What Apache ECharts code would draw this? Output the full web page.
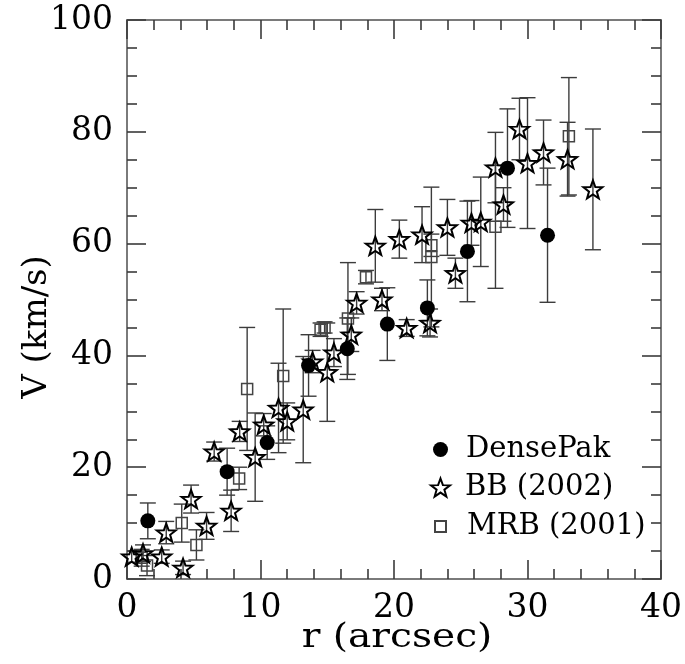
<!DOCTYPE html>
<html><head><meta charset="utf-8">
<script src="https://cdn.jsdelivr.net/npm/echarts@6/dist/echarts.min.js"></script>
<style>html,body{margin:0;padding:0;background:#fff}#c{width:685px;height:664px}</style>
</head><body><div id="c"></div>
<script>
// ---- data ----
const densepakR   = [1.56, 7.5, 10.5, 13.6, 16.5, 19.5, 22.5, 25.5, 28.5, 31.5];
const densepakV   = [10.4, 19.2, 24.4, 38.2, 41.2, 45.6, 48.5, 58.6, 73.5, 61.5];
const densepakErr = [3.2, 4.2, 3.0, 5.5, 5.5, 6.5, 5.0, 9.0, 10.6, 12.0];

const bbR   = [0.35, 1.2, 2.6, 2.94, 4.2, 4.8, 5.96, 6.53, 7.8, 8.44, 9.6, 10.24, 11.35, 12.0, 13.2, 13.9, 15.0, 15.5, 16.8, 17.2, 18.6, 19.1, 20.4, 20.95, 22.1, 22.7, 24.0, 24.6, 25.8, 26.5, 27.6, 28.2, 29.4, 30.0, 31.2, 33.0, 34.9];
const bbV   = [4.0, 4.6, 4.0, 8.3, 2.0, 14.3, 9.5, 22.8, 12.2, 26.4, 21.8, 27.6, 30.6, 28.2, 30.3, 38.9, 37.0, 40.5, 43.7, 49.4, 59.6, 50.0, 60.8, 44.9, 61.6, 45.8, 62.9, 54.7, 63.7, 63.9, 73.6, 67.0, 80.5, 74.4, 76.3, 75.1, 69.7];
const bbErr = [1.0, 1.5, 1.2, 2.0, 1.2, 2.5, 2.4, 1.7, 3.7, 1.8, 7.9, 2.0, 8.0, 3.3, 9.5, 2.0, 8.8, 2.5, 3.0, 2.0, 6.5, 2.0, 3.4, 1.5, 5.0, 2.5, 5.0, 2.7, 4.0, 8.0, 6.3, 3.0, 5.5, 11.7, 5.8, 6.6, 10.8];

const mrbR   = [1.1, 1.5, 4.1, 5.2, 8.4, 9.0, 11.7, 14.5, 14.8, 16.55, 17.9, 22.8, 22.8, 27.6, 33.1];
const mrbV   = [3.8, 2.4, 10.0, 6.1, 18.0, 34.0, 36.3, 44.6, 45.0, 46.6, 54.0, 59.7, 57.6, 63.0, 79.2];
const mrbErr = [1.5, 1.8, 3.4, 2.7, 2.0, 11.0, 12.0, 1.2, 1.0, 10.0, 1.2, 2.0, 12.5, 11.0, 10.5];

const xTickValues = [0, 10, 20, 30, 40];
const yTickValues = [0, 20, 40, 60, 80, 100];
const seriesNames = ['DensePak', 'BB (2002)', 'MRB (2001)'];
const xTitle = 'r (arcsec)';
const yTitle = 'V (km/s)';

// ---- helpers ----
function pts(R, V) { return R.map((r, i) => [r, V[i]]); }
function errs(R, V, E) { return R.map((r, i) => [r, V[i] - E[i], V[i] + E[i]]); }
function starPath() {
  let d = '';
  for (let i = 0; i < 10; i++) {
    const a = -Math.PI / 2 + i * Math.PI / 5;
    const rr = (i % 2) ? 4.1 : 10;
    d += (i ? 'L' : 'M') + (rr * Math.cos(a)).toFixed(3) + ' ' + (rr * Math.sin(a)).toFixed(3) + ' ';
  }
  return 'path://' + d + 'Z';
}
const STAR = starPath();
const FONT = 'DejaVu Serif';

function errRender(params, api) {
  const x = api.value(0), lo = api.value(1), hi = api.value(2);
  const p1 = api.coord([x, lo]), p2 = api.coord([x, hi]);
  const w = 8;
  const st = { stroke: '#3c3c3c', lineWidth: 1.4, fill: null };
  return { type: 'group', children: [
    { type: 'line', shape: { x1: p1[0], y1: p1[1], x2: p2[0], y2: p2[1] }, style: st },
    { type: 'line', shape: { x1: p1[0] - w, y1: p1[1], x2: p1[0] + w, y2: p1[1] }, style: st },
    { type: 'line', shape: { x1: p2[0] - w, y1: p2[1], x2: p2[0] + w, y2: p2[1] }, style: st }
  ]};
}

const frameLine = { show: true, onZero: false, lineStyle: { color: '#7a7a7a', width: 2 } };
const tickCommon = { show: true, inside: true, length: 19, lineStyle: { color: '#3a3a3a', width: 1.6 } };
const minorCommon = { show: true, length: 10, lineStyle: { color: '#3a3a3a', width: 1.6 } };

function xAx(pos, labels) {
  return {
    type: 'value', position: pos, min: 0, max: 40, interval: 10,
    axisLine: frameLine, axisTick: tickCommon,
    minorTick: Object.assign({ splitNumber: 5 }, minorCommon),
    splitLine: { show: false },
    axisLabel: { show: labels, margin: 13, fontFamily: FONT, fontSize: 33, color: '#000',
      customValues: xTickValues }
  };
}
function yAx(pos, labels) {
  return {
    type: 'value', position: pos, min: 0, max: 100, interval: 20,
    axisLine: frameLine, axisTick: tickCommon,
    minorTick: Object.assign({ splitNumber: 4 }, minorCommon),
    splitLine: { show: false },
    axisLabel: { show: labels, margin: 14, fontFamily: FONT, fontSize: 33, color: '#000',
      customValues: yTickValues }
  };
}

const legendText = { fontFamily: FONT, fontSize: 29, color: '#000', padding: [0, 0, 0, 13] };

const chart = echarts.init(document.getElementById('c'), null, { renderer: 'canvas' });
chart.setOption({
  animation: false,
  backgroundColor: '#fff',
  grid: { left: 127, top: 20, width: 539, height: 559 },
  xAxis: [xAx('bottom', true), xAx('top', false)],
  yAxis: [yAx('left', true), yAx('right', false)],
  legend: [
    { data: [{ name: seriesNames[0], icon: 'circle' }], left: 428, top: 430, itemWidth: 15, itemHeight: 15, textStyle: legendText, selectedMode: false },
    { data: [{ name: seriesNames[1], icon: STAR }], left: 425, top: 468, itemWidth: 19, itemHeight: 19, textStyle: Object.assign({}, legendText, { padding: [0, 0, 0, 10] }), selectedMode: false },
    { data: [{ name: seriesNames[2], icon: 'rect' }], left: 429, top: 507, itemWidth: 11, itemHeight: 11, textStyle: Object.assign({}, legendText, { padding: [0, 0, 0, 16] }), selectedMode: false }
  ],
  graphic: [
    { type: 'text', x: 397, y: 638, scaleX: 1.15, style: { text: xTitle, font: '34px "DejaVu Serif"', fill: '#000', align: 'center', verticalAlign: 'middle' } },
    { type: 'text', x: 20, y: 327, rotation: Math.PI / 2, style: { text: yTitle, font: '34px "DejaVu Serif"', fill: '#000', align: 'center', verticalAlign: 'top' } }
  ],
  series: [
    { type: 'custom', name: 'errDP', renderItem: errRender, data: errs(densepakR, densepakV, densepakErr), clip: true, z: 1, silent: true },
    { type: 'custom', name: 'errBB', renderItem: errRender, data: errs(bbR, bbV, bbErr), clip: true, z: 1, silent: true },
    { type: 'custom', name: 'errMRB', renderItem: errRender, data: errs(mrbR, mrbV, mrbErr), clip: true, z: 1, silent: true },
    { type: 'scatter', name: seriesNames[2], data: pts(mrbR, mrbV), symbol: 'rect', symbolSize: 11, z: 2,
      itemStyle: { color: 'rgba(0,0,0,0)', borderColor: '#444', borderWidth: 1.5, opacity: 1 } },
    { type: 'scatter', name: seriesNames[1], data: pts(bbR, bbV), symbol: STAR, symbolSize: 19, symbolKeepAspect: true, z: 3,
      itemStyle: { color: 'rgba(0,0,0,0)', borderColor: '#000', borderWidth: 2, opacity: 1 } },
    { type: 'scatter', name: seriesNames[0], data: pts(densepakR, densepakV), symbol: 'circle', symbolSize: 15, z: 4,
      itemStyle: { color: '#000', opacity: 1 } }
  ]
});
</script></body></html>
